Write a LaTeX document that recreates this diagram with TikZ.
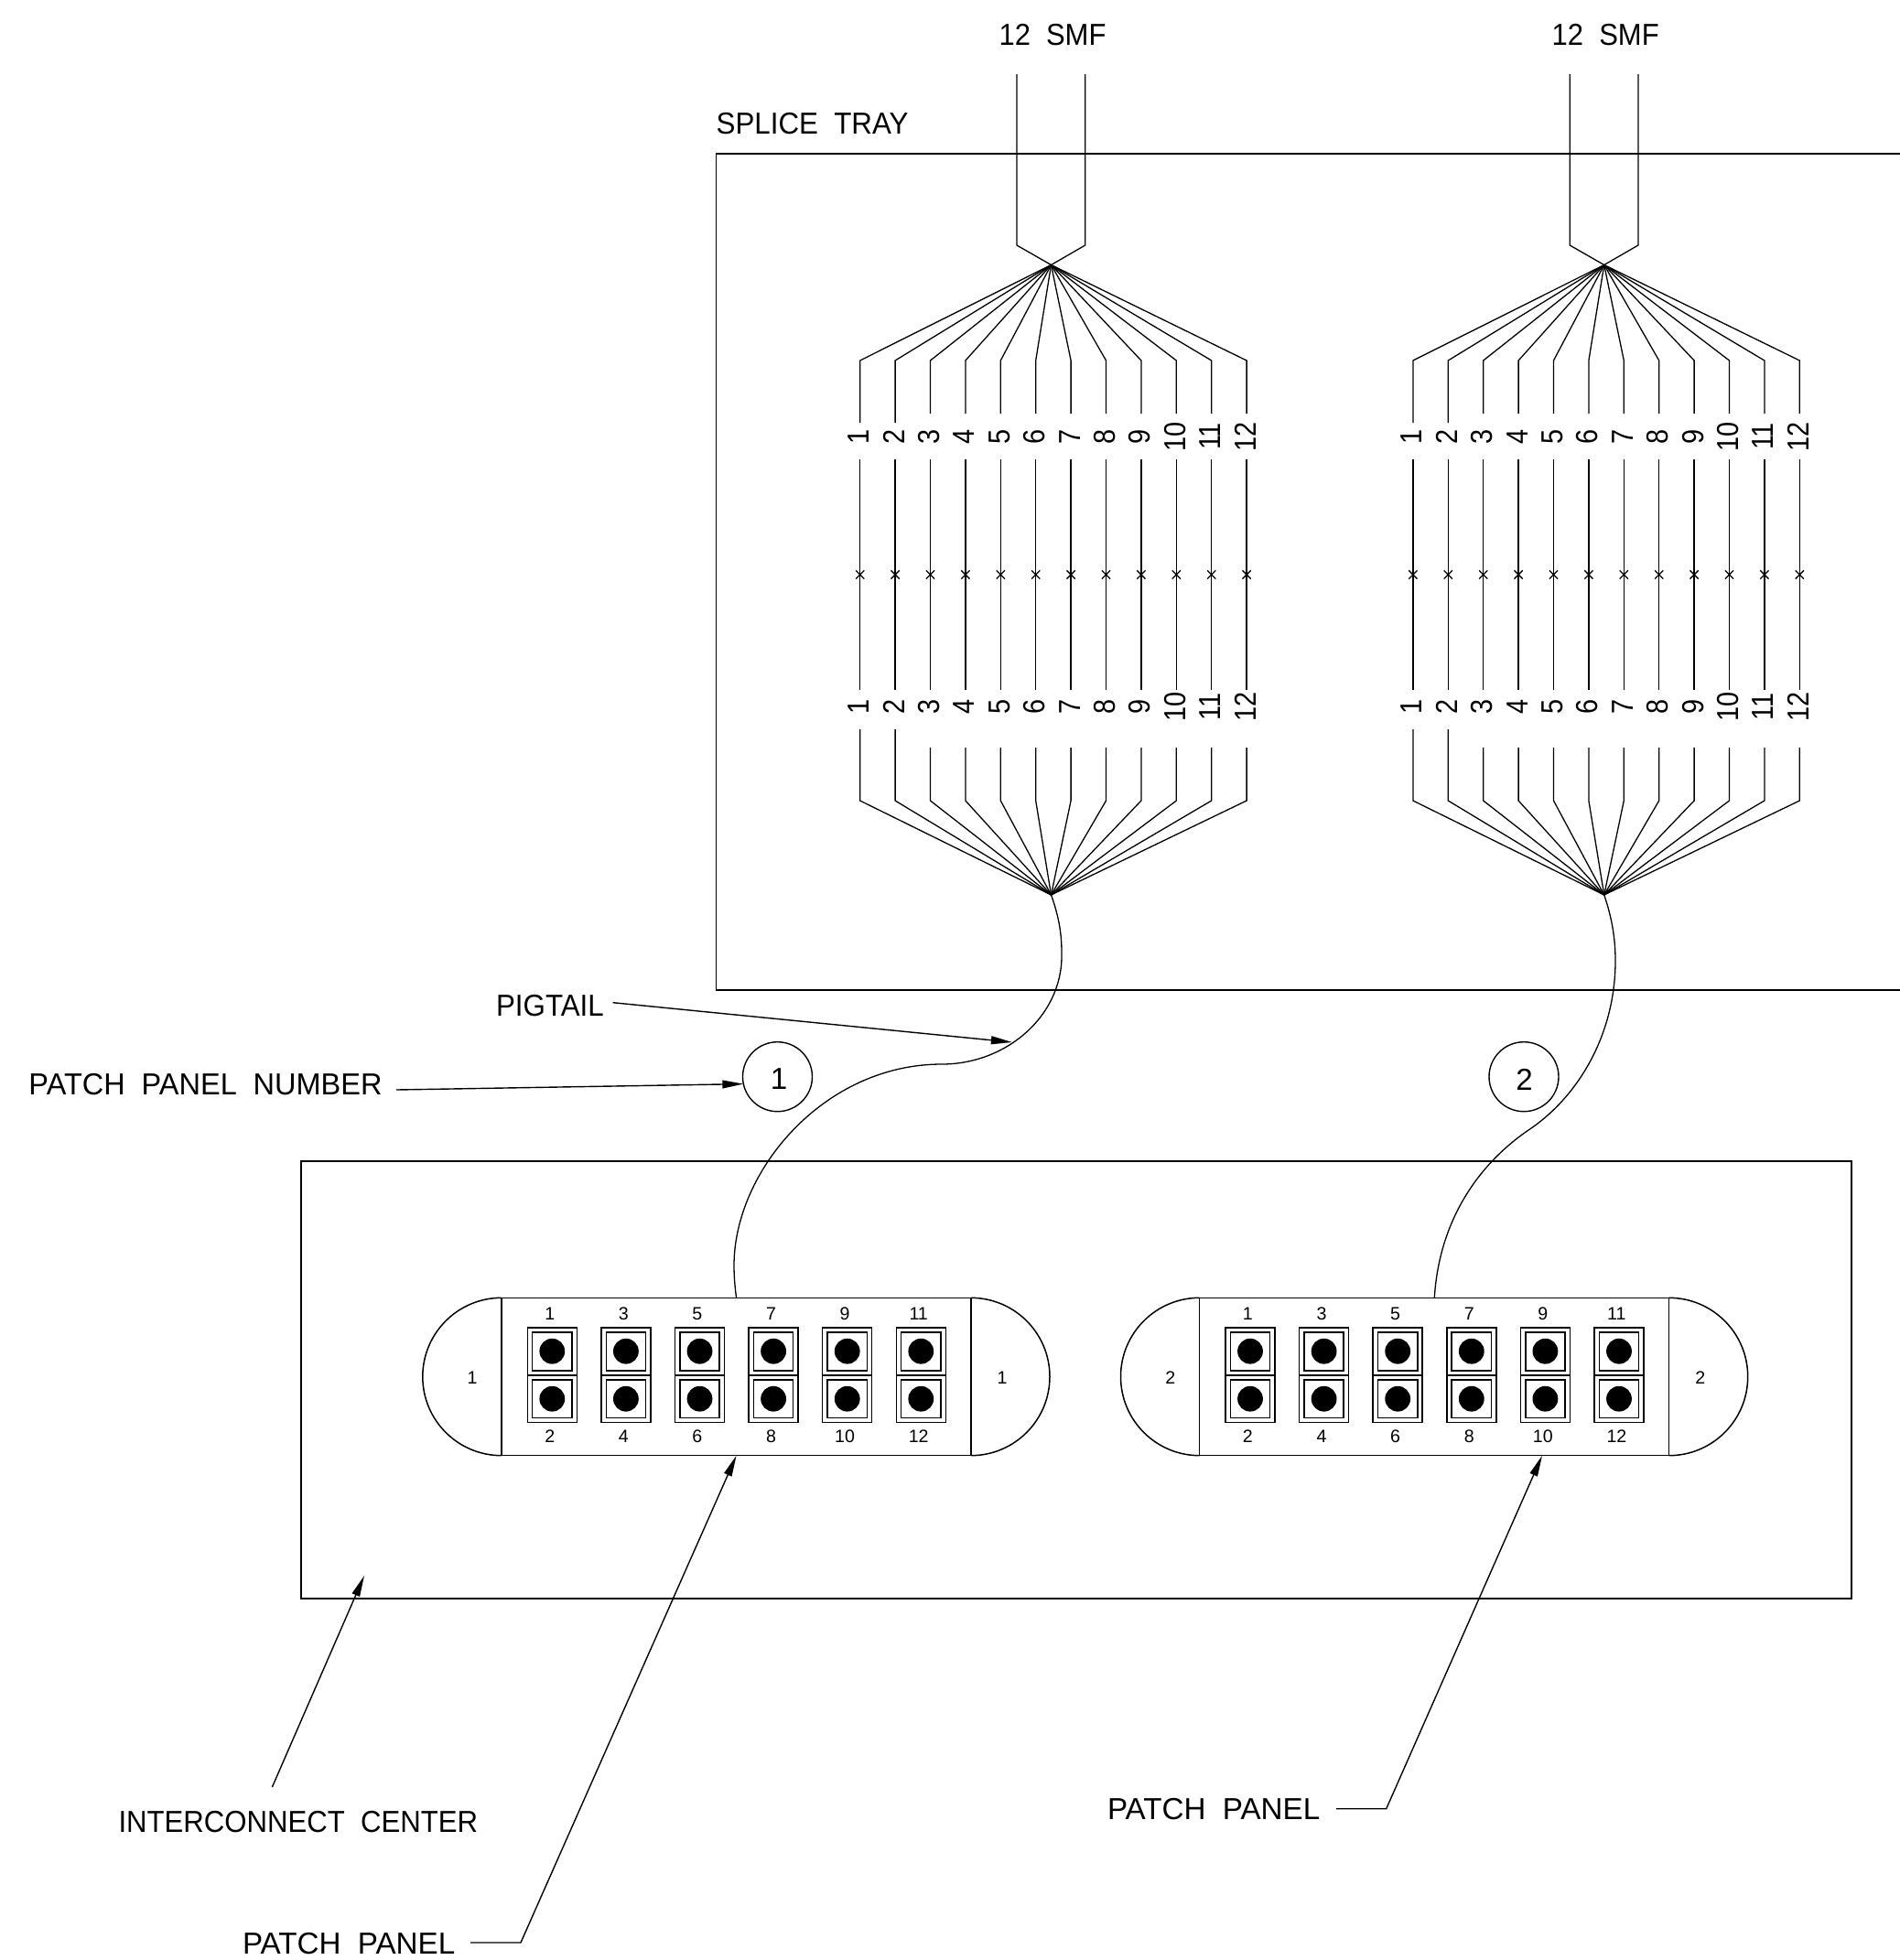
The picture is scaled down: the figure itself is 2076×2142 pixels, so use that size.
\documentclass[tikz,border=0pt]{standalone}
\usepackage{fontspec}
\usepackage{graphicx}
\setmainfont{Liberation Sans}
\usetikzlibrary{arrows.meta}
\newcommand{\bigtxt}{\fontsize{16.6}{18}\selectfont}
\newcommand{\smalltxt}{\fontsize{9.8}{11}\selectfont}
\newcommand{\wsp}{\hspace{0.55em}}
\newcommand{\sx}[2]{\scalebox{#1}[1]{#2}}
\tikzset{
  ln/.style={line width=0.75pt,black},
  thin ln/.style={line width=0.65pt,black},
  lead/.style={line width=0.7pt,black,-{Triangle[length=11.5pt,width=4.4pt]}},
  lab/.style={inner sep=0,outer sep=0,anchor=base west,font=\bigtxt},
  strandlab/.style={inner sep=0,outer sep=0,anchor=center,rotate=90,font=\bigtxt},
  numlab/.style={inner sep=0,outer sep=0,anchor=center,font=\smalltxt},
  bubble/.style={draw,circle,line width=0.7pt,minimum size=38pt,inner sep=0,outer sep=0},
  bubblelab/.style={inner sep=0,outer sep=0,anchor=center,font=\bigtxt}
}
\begin{document}
\begin{tikzpicture}[x=0.5pt,y=-0.5pt]
\useasboundingbox (0,0) rectangle (2076,2142);
% splice tray (open at the right)
\draw[ln] (2076,168) -- (782.6,168) -- (782.6,1082) -- (2076,1082);
\node[lab] (traylab) at (782.6,146.7) {\sx{0.944}{SPLICE\wsp TRAY}};
% interconnect center
\draw[ln] (329,1269) rectangle (2023,1747);
% fibre groups
\foreach \g/\off in {1/0,2/604.2}{
\begin{scope}[shift={(\off,0)}]
  \coordinate (hubT\g) at (1148.5,289.5);
  \coordinate (hubB\g) at (1148.5,978);
  \coordinate (smfL\g) at (1111,81);
  \coordinate (smfR\g) at (1185.7,81);
  \node[lab] (smf\g) at (1091.5,49) {\sx{0.934}{12\wsp SMF}};
  \draw[thin ln] (smfL\g) -- (1111,268) -- (hubT\g);
  \draw[thin ln] (smfR\g) -- (1185.7,268) -- (hubT\g);
  \foreach \i in {1,...,12}{
    \pgfmathsetmacro{\xx}{939.7+38.4*(\i-1)}
    \pgfmathsetmacro{\ue}{\i<3?462:452}
    \pgfmathsetmacro{\ls}{\i<3?797:817}
    \coordinate (bt\g-\i) at (\xx,394);
    \coordinate (bb\g-\i) at (\xx,875);
    \draw[thin ln] (hubT\g) -- (bt\g-\i) -- (\xx,\ue);
    \node[strandlab] (ul\g-\i) at (\xx-1.5,477) {\sx{0.87}{\i}};
    \draw[thin ln] (\xx,502) -- (\xx,754);
    \draw[thin ln] (\xx-4.6,623.4) -- (\xx+4.6,632.6);
    \draw[thin ln] (\xx-4.6,632.6) -- (\xx+4.6,623.4);
    \node[strandlab] (ll\g-\i) at (\xx-1.5,772.7) {\sx{0.87}{\i}};
    \draw[thin ln] (\xx,\ls) -- (bb\g-\i) -- (hubB\g);
  }
\end{scope}
}
% patch panels
\foreach \p/\off in {1/0,2/762.7}{
\begin{scope}[shift={(\off,0)}]
  \coordinate (pT\p) at (804.6,1418.3);
  \coordinate (pB\p) at (804.6,1590.7);
  \draw[ln] (548,1418.3) -- (1060.8,1418.3);
  \draw[ln] (548,1590.7) -- (1060.8,1590.7);
  \draw[ln] (548,1418.3) -- (548,1590.7);
  \draw[ln] (1060.8,1418.3) -- (1060.8,1590.7);
  \draw[ln] (548,1418.3) .. controls (500.4,1418.3) and (461.8,1456.9) .. (461.8,1504.5)
                         .. controls (461.8,1552.1) and (500.4,1590.7) .. (548,1590.7);
  \draw[ln] (1060.8,1418.3) .. controls (1108.4,1418.3) and (1147,1456.9) .. (1147,1504.5)
                         .. controls (1147,1552.1) and (1108.4,1590.7) .. (1060.8,1590.7);
  \node[numlab] (pl\p) at (516,1506) {\p};
  \node[numlab] (pr\p) at (1095,1506) {\p};
  \foreach \k in {1,...,6}{
    \pgfmathsetmacro{\cx}{603.3+80.6*(\k-1)}
    \pgfmathtruncatemacro{\nt}{2*\k-1}
    \pgfmathtruncatemacro{\nb}{2*\k}
    \node[numlab] (nt\p-\k) at (\cx-2.6,1435.7) {\nt};
    \node[numlab] (nb\p-\k) at (\cx-2.6,1570) {\nb};
    \draw[ln] (\cx-27,1451) rectangle (\cx+27,1502.8);
    \draw[ln] (\cx-27,1502.8) rectangle (\cx+27,1554.7);
    \draw[ln] (\cx-21.6,1456) rectangle (\cx+21.6,1498);
    \draw[ln] (\cx-21.6,1508) rectangle (\cx+21.6,1549.7);
    \fill (\cx,1476.7) circle [radius=13.9];
    \fill (\cx,1528.7) circle [radius=13.9];
  }
\end{scope}
}
% panel number bubbles
\node[bubble] (c1) at (849.5,1176.7) {};
\node[bubble] (c2) at (1665,1176.7) {};
\node[bubblelab] (c1t) at (851,1179.5) {1};
\node[bubblelab] (c2t) at (1665.5,1179.5) {2};
% pigtails
\coordinate (tailtip) at (1105.9,1139);
\draw[thin ln] (hubB1) .. controls (1160,1010) and (1160,1030) .. (1160,1045)
  .. controls (1160,1110) and (1100,1163) .. (1029,1163)
  .. controls (900,1163) and (802,1280) .. (802,1383)
  .. controls (802,1395) and (803,1407) .. (pT1);
\coordinate (pT2b) at (1567.3,1418.3);
\draw[thin ln] (hubB2) .. controls (1762,1005) and (1765,1028) .. (1765,1050)
  .. controls (1765,1130) and (1725,1197) .. (1673,1233)
  .. controls (1610,1275) and (1572,1340) .. (pT2b);
% labels and leaders
\node[lab] (pigl) at (542,1110) {\sx{0.944}{PIGTAIL}};
\coordinate (pigs) at (669.6,1095.7);
\draw[lead] (pigs) -- (tailtip);
\node[lab] (ppn) at (31.5,1196.7) {\sx{0.979}{PATCH\wsp PANEL\wsp NUMBER}};
\coordinate (ppns) at (433,1191);
\draw[lead] (ppns) -- (c1.192);
\node[lab] (icl) at (129.5,2002) {\sx{0.938}{INTERCONNECT\wsp CENTER}};
\coordinate (ics) at (297.4,1953);
\coordinate (ict) at (398,1722);
\draw[lead] (ics) -- (ict);
\node[lab] (pp1) at (265,2135) {PATCH\wsp PANEL};
\coordinate (pp1s) at (514,2123);
\draw[lead] (pp1s) -- (569,2123) -- (pB1);
\node[lab] (pp2) at (1210,1988) {PATCH\wsp PANEL};
\coordinate (pp2s) at (1460,1976.7);
\coordinate (pB2b) at (1685,1590.7);
\draw[lead] (pp2s) -- (1514.7,1976.7) -- (pB2b);
\end{tikzpicture}
\end{document}
